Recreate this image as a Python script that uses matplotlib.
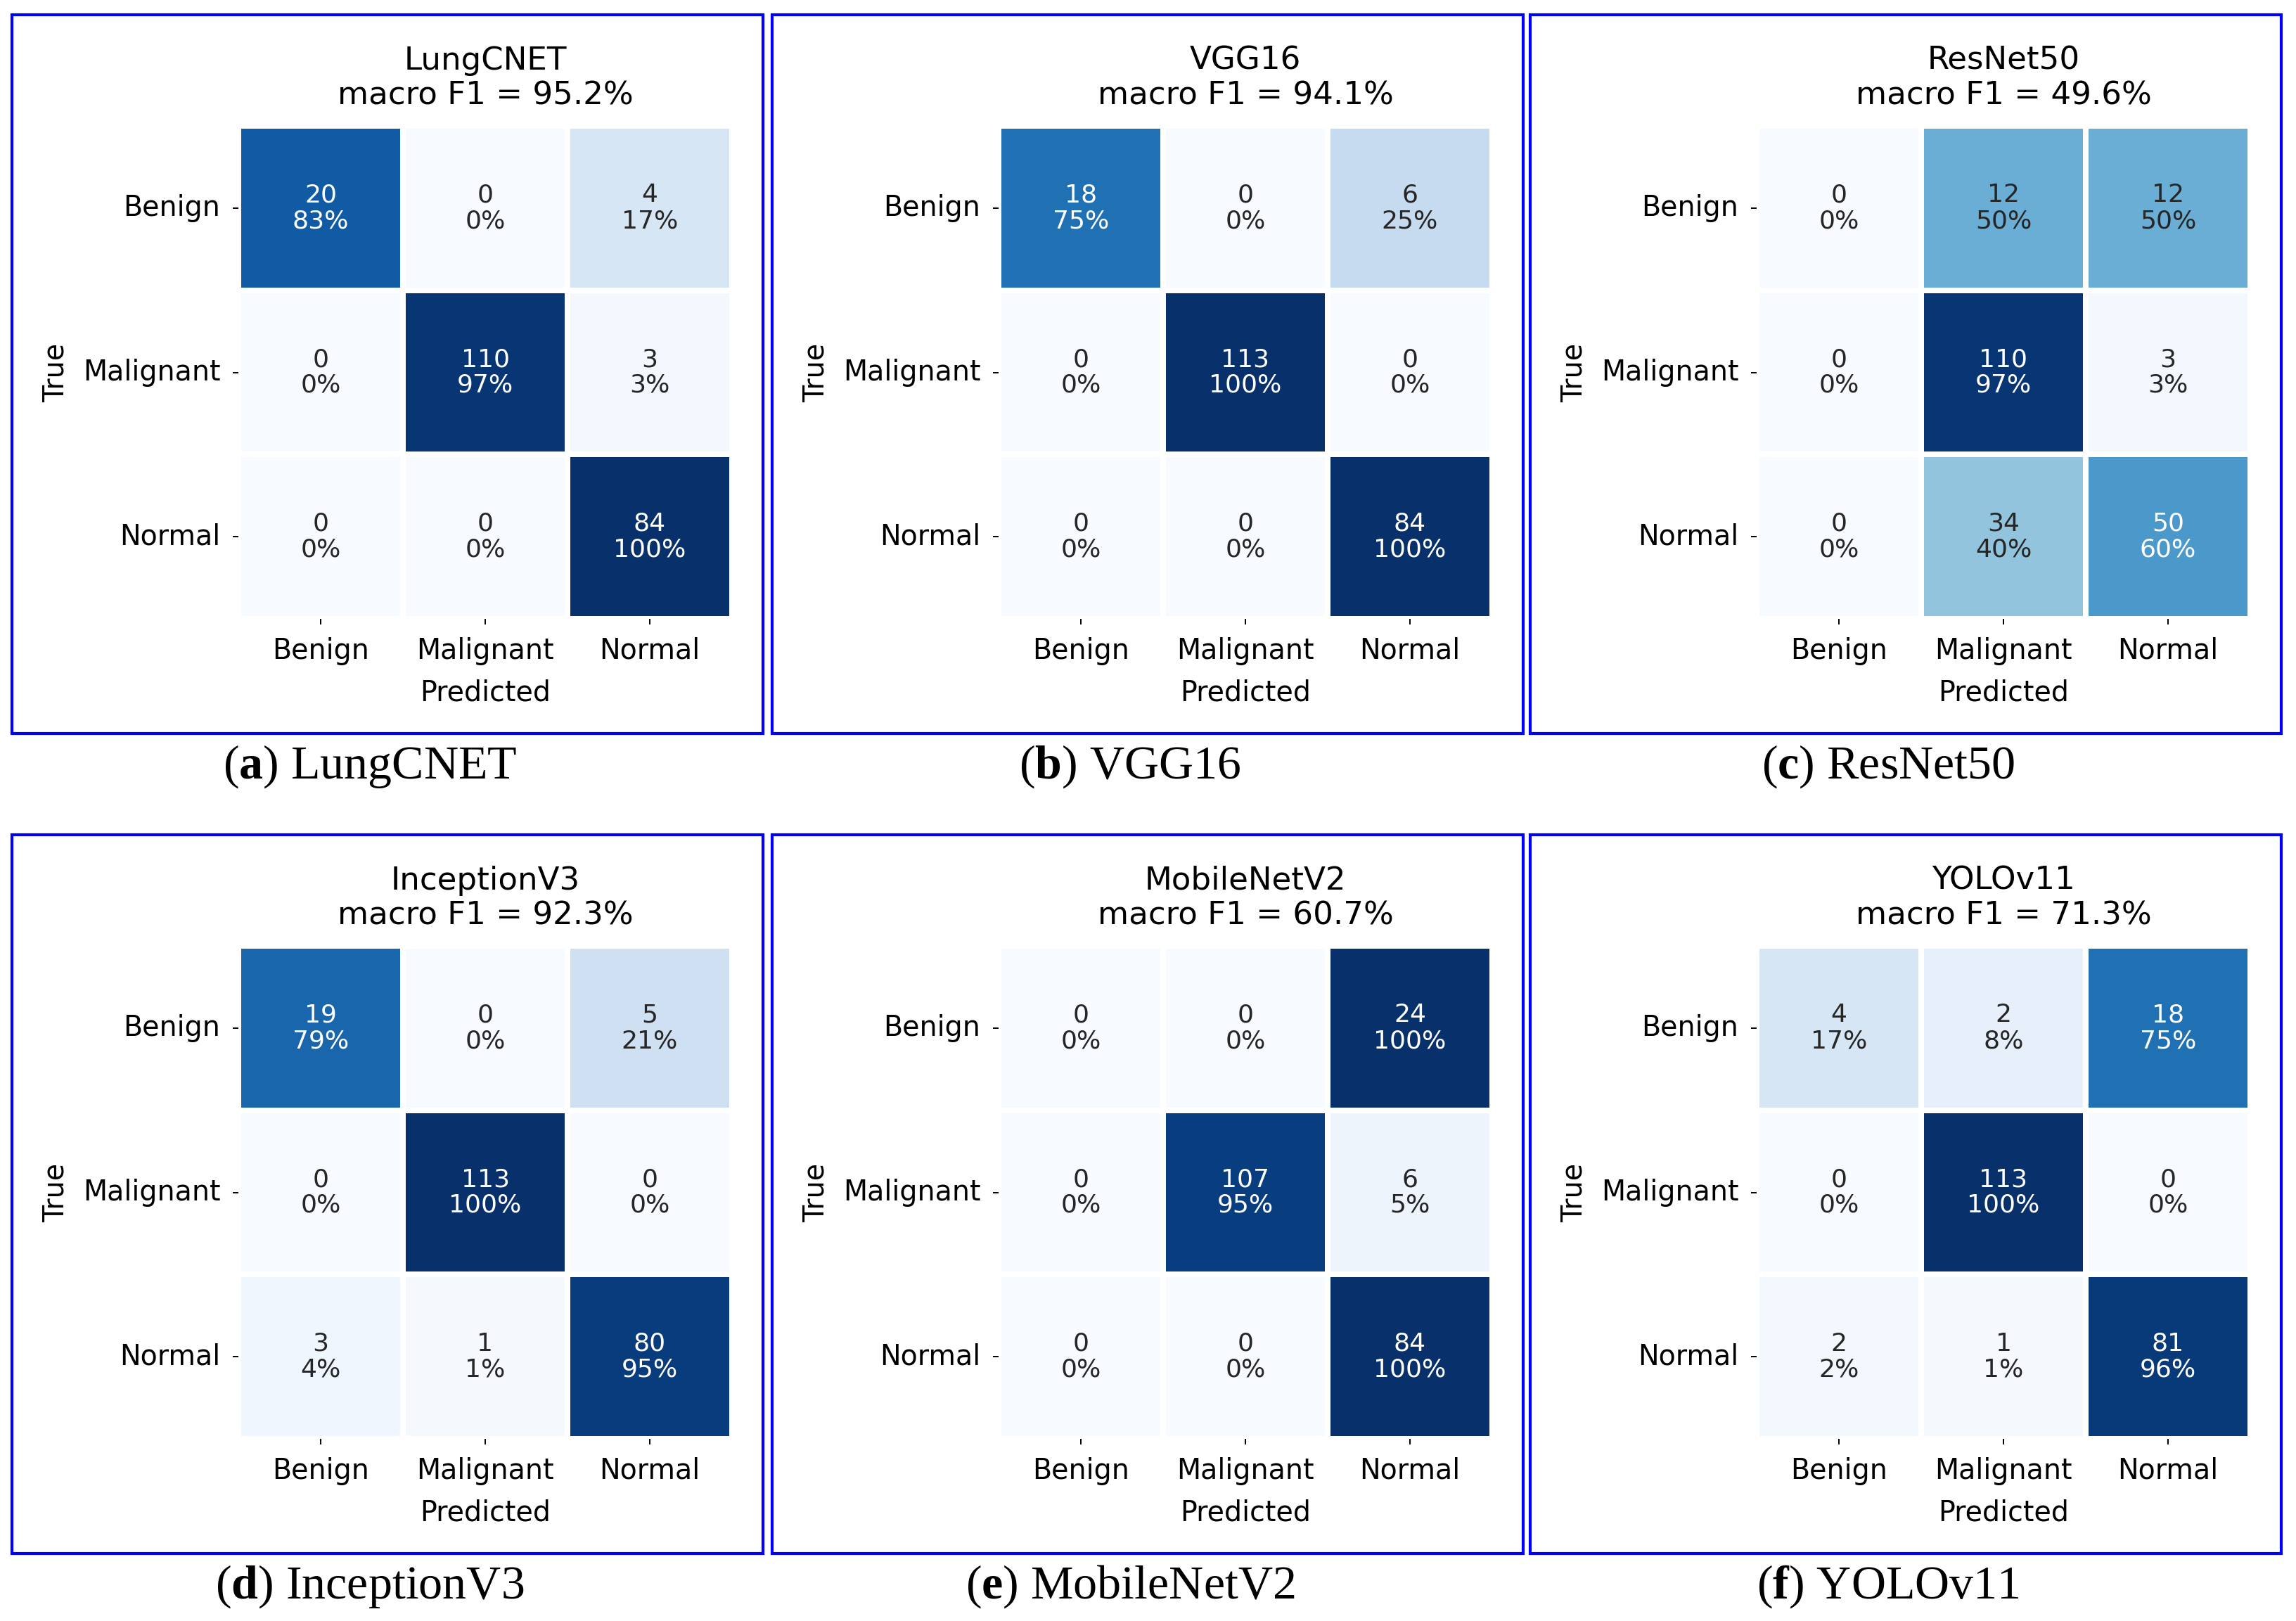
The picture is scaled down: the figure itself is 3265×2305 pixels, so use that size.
import numpy as np
import matplotlib
matplotlib.use("Agg")
import matplotlib.pyplot as plt
import seaborn as sns
from matplotlib.patches import Rectangle

plt.rcParams['font.family'] = ['DejaVu Sans']
plt.rcParams['mathtext.fontset'] = 'custom'
plt.rcParams['mathtext.rm'] = 'Liberation Serif'
plt.rcParams['mathtext.bf'] = 'Liberation Serif:bold'

classes = ["Benign", "Malignant", "Normal"]
models = ["LungCNET", "VGG16", "ResNet50", "InceptionV3", "MobileNetV2", "YOLOv11"]
letters = ["a", "b", "c", "d", "e", "f"]
macro_f1 = [95.2, 94.1, 49.6, 92.3, 60.7, 71.3]

cm_lungcnet = [[20, 0, 4], [0, 110, 3], [0, 0, 84]]
cm_vgg16 = [[18, 0, 6], [0, 113, 0], [0, 0, 84]]
cm_resnet50 = [[0, 12, 12], [0, 110, 3], [0, 34, 50]]
cm_inception = [[19, 0, 5], [0, 113, 0], [3, 1, 80]]
cm_mobilenet = [[0, 0, 24], [0, 107, 6], [0, 0, 84]]
cm_yolo = [[4, 2, 18], [0, 113, 0], [2, 1, 81]]
matrices = [cm_lungcnet, cm_vgg16, cm_resnet50, cm_inception, cm_mobilenet, cm_yolo]

W, H = 3265, 2305
fig = plt.figure(figsize=(W / 100, H / 100), dpi=100)


def frac(x, y, w, h):
    return [x / W, 1 - (y + h) / H, w / W, h / H]


# overlay in pixel coords for the blue frames and captions
over = fig.add_axes([0, 0, 1, 1])
over.set_xlim(0, W)
over.set_ylim(H, 0)
over.axis("off")

box_x = [17, 1098, 2176]
box_y = [21, 1187]
box_w, box_h = 1068, 1022

for i, (name, cm) in enumerate(zip(models, matrices)):
    r, c = divmod(i, 3)
    bx, by = box_x[c], box_y[r]
    over.add_patch(Rectangle((bx, by), box_w, box_h, fill=False,
                             edgecolor="#0000ff", linewidth=3))
    over.text(bx + box_w / 2 - 25, by + 1069, r"($\mathbf{%s}$) %s" % (letters[i], name),
              ha="center", va="center", fontsize=49, family="Liberation Serif")

    cm = np.array(cm)
    pct = cm / cm.sum(axis=1, keepdims=True)
    annot = np.array([[f"{cm[a, b]}\n{pct[a, b] * 100:.0f}%" for b in range(3)]
                      for a in range(3)])

    ax = fig.add_axes(frac(bx + 322, by + 158, 702, 701))
    sns.heatmap(pct, ax=ax, cmap="Blues", vmin=0, vmax=1, cbar=False,
                annot=annot, fmt="", linewidths=4.5, linecolor="white",
                annot_kws={"fontsize": 26, "linespacing": 1.1},
                xticklabels=classes, yticklabels=classes)
    for t, p in zip(ax.texts, pct.flatten()):
        t.set_color("white" if p > 0.5 else "#262626")
    ax.set_title(f"{name}\nmacro F1 = {macro_f1[i]:.1f}%", fontsize=32.5, pad=22,
                 linespacing=1.2)
    ax.set_xlabel("Predicted", fontsize=28.5, labelpad=14)
    ax.set_ylabel("True", fontsize=28.5, labelpad=13)
    ax.tick_params(axis="both", labelsize=28.5, length=5.5, width=1.4, pad=13)
    plt.setp(ax.get_yticklabels(), rotation=0)
    plt.setp(ax.get_xticklabels(), rotation=0)

fig.savefig("out.png", dpi=100)
